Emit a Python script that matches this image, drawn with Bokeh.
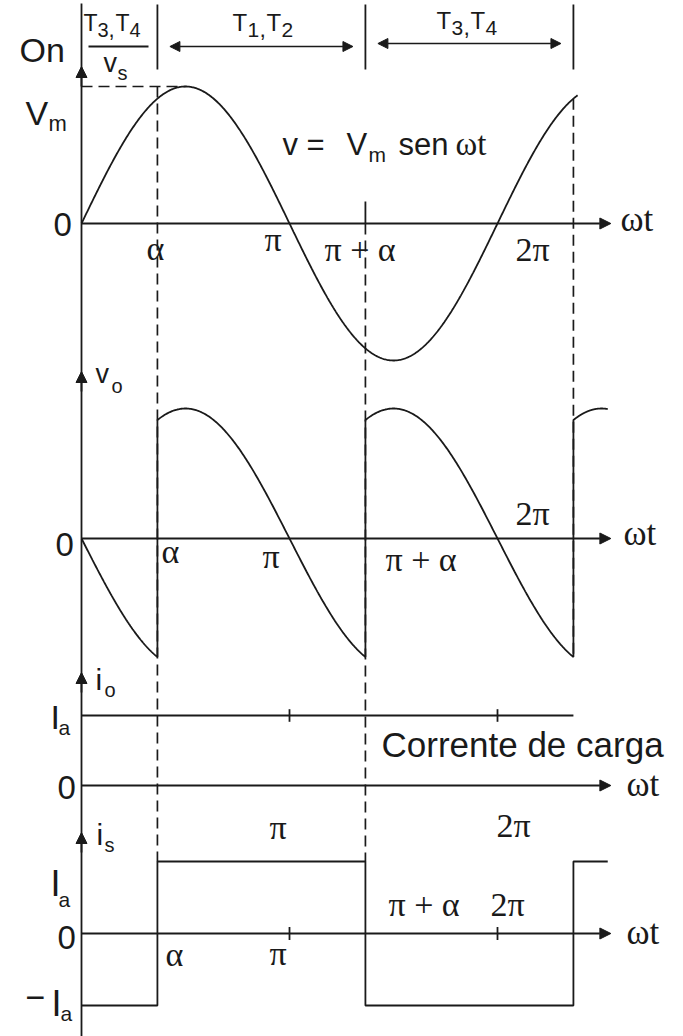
import numpy as np
from bokeh.plotting import figure
from bokeh.models import Range1d, Arrow, NormalHead
from bokeh.core.properties import value
from bokeh.embed import file_html
from bokeh.resources import INLINE

# ---- converter waveform values ---------------------------------------------
ALPHA = 0.365 * np.pi                      # firing angle α
VM = 1.0                                   # supply peak voltage Vm
IA = 1.0                                   # constant load current Ia
SWITCH_ANGLES = [ALPHA, np.pi + ALPHA, 2 * np.pi + ALPHA]
VO_SIGN = [-1, 1, -1, 1]                   # v_o = ±Vm sen ωt between switchings
IS_LEVEL = [-1, 1, -1, 1]                  # i_s in units of Ia between switchings
WT_END_VS = 2 * np.pi + ALPHA + 0.02 * np.pi
WT_END = 2.53 * np.pi
AXIS_END = 2.545 * np.pi
IO_TICKS = [np.pi, 2 * np.pi]
IS_TICKS = [np.pi, 2 * np.pi]

# ---- canvas ----------------------------------------------------------------
W, H = 683, 1036
X0 = 81                                    # pixel column of the vertical axis
PX_PER_RAD = 208 / np.pi
INK = "#1a1a1a"
SANS = "Liberation Sans"
SERIF = "Liberation Serif"

# panel name -> (pixel row of zero, pixels per unit)
PANELS = {"vs": (223, 137), "vo": (538, 130), "io": (785, 70), "is": (933, 72)}


def panel_range(zero, ppu):
    return Range1d(-(H - zero) / ppu, zero / ppu)


def to_page(panel, v):
    zero, ppu = PANELS[panel]
    return zero - v * ppu


p = figure(width=W, height=H, output_backend="svg", toolbar_location=None,
           x_range=Range1d(-X0 / PX_PER_RAD, (W - X0) / PX_PER_RAD),
           y_range=Range1d(H, 0), x_axis_type=None, y_axis_type=None,
           min_border=0, outline_line_color=None,
           background_fill_color="white", border_fill_color="white")
p.extra_y_ranges = {k: panel_range(*v) for k, v in PANELS.items()}
p.extra_x_ranges = {"px": Range1d(0, W)}
p.xgrid.visible = False
p.ygrid.visible = False

# ---- dashed guides ----------------------------------------------------------
DASH = dict(line_color=INK, line_width=1.7, line_dash="11 6")
p.line([0, np.pi / 2], [VM, VM], y_range_name="vs", **DASH)
guides = [
    (SWITCH_ANGLES[0], to_page("vs", VM), to_page("is", IA)),
    (SWITCH_ANGLES[1], to_page("vs", 0), to_page("is", IA)),
    (SWITCH_ANGLES[2], to_page("vs", VM * np.sin(ALPHA)),
     to_page("vo", -VM * np.sin(ALPHA))),
]
for x, y0, y1 in guides:
    p.line([x, x], [y0, y1], **DASH)

SOLID = dict(line_color=INK, line_width=1.8)

# ---- vertical axis with arrow heads ----------------------------------------
p.line([0, 0], [3, H], **SOLID)
for tip in [66, 371, 672, 832]:
    p.add_layout(Arrow(x_start=0, y_start=tip + 20, x_end=0, y_end=tip,
                       line_color=INK, line_width=1.8,
                       end=NormalHead(size=11, fill_color=INK, line_color=INK)))

# ---- horizontal axes --------------------------------------------------------
for name in PANELS:
    p.add_layout(Arrow(x_start=0, y_start=0, x_end=AXIS_END, y_end=0,
                       y_range_name=name, line_color=INK, line_width=1.8,
                       end=NormalHead(size=11, fill_color=INK, line_color=INK)))

# ---- conduction header ------------------------------------------------------
for x in SWITCH_ANGLES:
    p.line([x, x], [4, 69], **SOLID)
p.line([88, 148], [46, 46], x_range_name="px", **SOLID)
gap = 0.06 * np.pi
for (a, b), yy in [((SWITCH_ANGLES[0], SWITCH_ANGLES[1]), 46),
                   ((SWITCH_ANGLES[1], SWITCH_ANGLES[2]), 43)]:
    p.add_layout(Arrow(x_start=a + gap, y_start=yy, x_end=b - gap, y_end=yy,
                       line_color=INK, line_width=1.5,
                       start=NormalHead(size=10, fill_color=INK, line_color=INK),
                       end=NormalHead(size=10, fill_color=INK, line_color=INK)))

# ---- supply voltage v = Vm sen ωt -------------------------------------------
wt = np.linspace(0, WT_END_VS, 600)
p.line(wt, VM * np.sin(wt), y_range_name="vs", **SOLID)
p.line([SWITCH_ANGLES[1]] * 2, [0, 0.16 * VM], y_range_name="vs", **SOLID)

# ---- output voltage v_o -----------------------------------------------------
edges = [0] + SWITCH_ANGLES + [WT_END]
vo_x, vo_y = [], []
for i, sgn in enumerate(VO_SIGN):
    t = np.linspace(edges[i], edges[i + 1], 200)
    vo_x.append(t)
    vo_y.append(sgn * VM * np.sin(t))
p.line(np.concatenate(vo_x), np.concatenate(vo_y), y_range_name="vo", **SOLID)

# ---- load current i_o -------------------------------------------------------
p.line([0, SWITCH_ANGLES[2]], [IA, IA], y_range_name="io", **SOLID)
for t in IO_TICKS:
    p.line([t, t], [IA - 0.09, IA + 0.09], y_range_name="io", **SOLID)

# ---- supply current i_s -----------------------------------------------------
is_x, is_y = [], []
for i, lvl in enumerate(IS_LEVEL):
    is_x += [edges[i], edges[i + 1]]
    is_y += [lvl * IA, lvl * IA]
p.line(is_x, is_y, y_range_name="is", **SOLID)
for t in IS_TICKS:
    p.line([t, t], [-0.09, 0.09], y_range_name="is", **SOLID)


# ---- labels -----------------------------------------------------------------
# y is the wanted baseline row; the renderer sets glyphs about 0.38 em lower,
# so the anchor is lifted by that amount.
def txt(x, y, s, size, font=SANS):
    p.text(x=[x], y=[y - 0.38 * size], text=[s], x_range_name="px",
           text_font=value(font), text_font_size=f"{size}px",
           text_align="left", text_baseline="alphabetic", text_color=INK)


labels = [
    # header
    (19, 62, "On", 34, SANS),
    (83, 31, "T", 23, SANS), (97, 37, "3", 20, SANS), (108, 37, ",", 22, SANS),
    (115, 31, "T", 23, SANS), (129, 37, "4", 20, SANS),
    (103, 73, "v", 27, SANS), (117, 80, "s", 20, SANS),
    (232, 31, "T", 24, SANS), (247, 37, "1", 21, SANS), (259, 37, ",", 23, SANS),
    (266, 31, "T", 24, SANS), (281, 37, "2", 21, SANS),
    (436, 29, "T", 24, SANS), (451, 35, "3", 21, SANS), (463, 35, ",", 23, SANS),
    (470, 29, "T", 24, SANS), (485, 35, "4", 21, SANS),
    # supply voltage panel
    (25, 125, "V", 34, SANS), (48, 131, "m", 22, SANS),
    (53, 237, "0", 33, SANS),
    (146, 261, "α", 34, SERIF), (264, 252, "π", 34, SERIF),
    (324, 262, "π + α", 34, SERIF), (515, 262, "2π", 34, SERIF),
    (620, 232, "ωt", 35, SERIF),
    (282, 156, "v =", 31, SANS), (346, 156, "V", 31, SANS),
    (368, 162, "m", 21, SANS), (398, 156, "sen", 31, SANS),
    (455, 156, "ωt", 33, SERIF),
    # output voltage panel
    (95, 384, "v", 27, SANS), (111, 393, "o", 20, SANS),
    (55, 557, "0", 33, SANS),
    (161, 564, "α", 34, SERIF), (262, 569, "π", 34, SERIF),
    (385, 572, "π + α", 34, SERIF), (515, 526, "2π", 34, SERIF),
    (623, 546, "ωt", 35, SERIF),
    # load current panel
    (95, 690, "i", 30, SANS), (104, 697, "o", 20, SANS),
    (50, 729, "I", 34, SANS), (58, 735, "a", 21, SANS),
    (381, 757, "Corrente de carga", 35, SANS),
    (57, 800, "0", 33, SANS), (626, 797, "ωt", 35, SERIF),
    # supply current panel
    (96, 845, "i", 30, SANS), (104, 852, "s", 20, SANS),
    (269, 840, "π", 34, SERIF), (496, 838, "2π", 34, SERIF),
    (50, 897, "I", 36, SANS), (58, 907, "a", 21, SANS),
    (57, 950, "0", 33, SANS),
    (25, 1010, "−", 34, SANS), (51, 1017, "I", 36, SANS), (60, 1021, "a", 21, SANS),
    (165, 967, "α", 34, SERIF), (269, 966, "π", 34, SERIF),
    (388, 917, "π + α", 34, SERIF), (490, 917, "2π", 34, SERIF),
    (626, 945, "ωt", 35, SERIF),
]
for x, y, s, size, font in labels:
    txt(x, y, s, size, font)

open("out.html", "w").write(file_html(p, INLINE))
